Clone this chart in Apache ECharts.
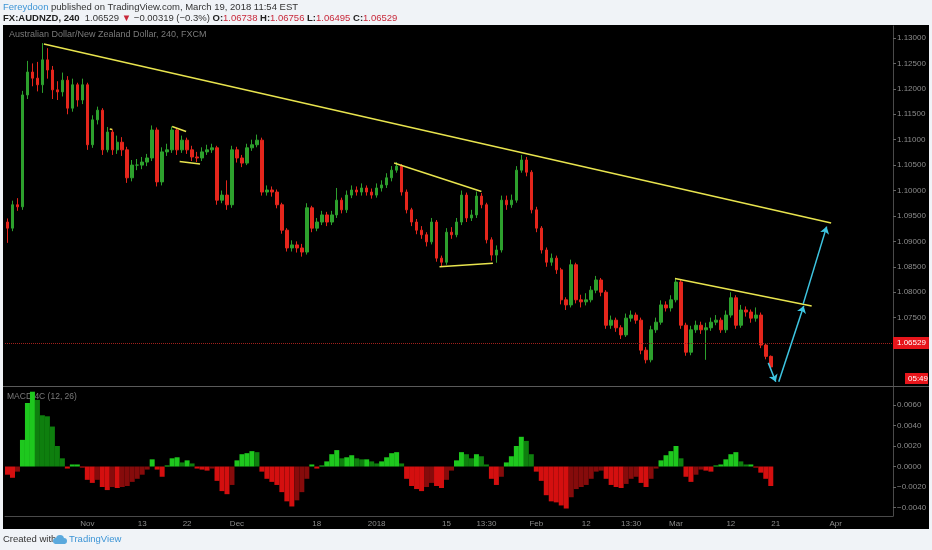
<!DOCTYPE html>
<html>
<head>
<meta charset="utf-8">
<script src="https://cdn.jsdelivr.net/npm/echarts@6/dist/echarts.min.js"></script>
<style>
  html, body { margin: 0; padding: 0; background: #f0f3f7; }
  #chart { width: 932px; height: 550px; }
</style>
</head>
<body>
<div id="chart"></div>
<script>
// AUDNZD 240 candles (open of each bar = previous close)
var firstOpen = 1.0938;
var closes = [
  1.0926, 1.0972, 1.0968, 1.1188, 1.1233, 1.1221, 1.1208, 1.1257, 1.1237, 1.1198,
  1.1194, 1.1217, 1.1162, 1.1208, 1.1178, 1.1208, 1.1090, 1.1139, 1.1158, 1.1080,
  1.1115, 1.1080, 1.1095, 1.1080, 1.1025, 1.1050, 1.1050, 1.1056, 1.1064, 1.1119,
  1.1017, 1.1076, 1.1080, 1.1119, 1.1080, 1.1099, 1.1080, 1.1066, 1.1064, 1.1076,
  1.1080, 1.1084, 1.0981, 1.0991, 1.0972, 1.1080, 1.1064, 1.1054, 1.1084, 1.1090,
  1.1099, 1.0997, 1.1001, 1.0997, 1.0972, 1.0922, 1.0887, 1.0893, 1.0887, 1.0879,
  1.0966, 1.0926, 1.0938, 1.0952, 1.0938, 1.0952, 1.0981, 1.0962, 1.0991, 1.1001,
  1.0997, 1.1005, 1.0997, 1.0991, 1.1005, 1.1011, 1.1025, 1.1040, 1.1048, 1.0997,
  1.0962, 1.0938, 1.0922, 1.0913, 1.0899, 1.0938, 1.0867, 1.0859, 1.0918, 1.0913,
  1.0938, 1.0991, 1.0946, 1.0952, 1.0989, 1.0972, 1.0903, 1.0873, 1.0883, 1.0981,
  1.0972, 1.0981, 1.1040, 1.1060, 1.1036, 1.0962, 1.0926, 1.0883, 1.0859, 1.0867,
  1.0844, 1.0785, 1.0775, 1.0854, 1.0785, 1.0781, 1.0785, 1.0804, 1.0824, 1.0800,
  1.0735, 1.0745, 1.0730, 1.0716, 1.0749, 1.0755, 1.0745, 1.0686, 1.0667, 1.0726,
  1.0741, 1.0775, 1.0769, 1.0785, 1.0820, 1.0735, 1.0682, 1.0726, 1.0735, 1.0726,
  1.0730, 1.0741, 1.0745, 1.0726, 1.0755, 1.0789, 1.0735, 1.0765, 1.0761, 1.0749,
  1.0755, 1.0696, 1.06738, 1.06529
];
var highs = [
  1.0945, 1.0980, 1.0985, 1.1196, 1.1255, 1.1250, 1.1253, 1.1290, 1.1280, 1.1245,
  1.1215, 1.1232, 1.1225, 1.1220, 1.1212, 1.1220, 1.1212, 1.1148, 1.1165, 1.1162,
  1.1125, 1.1120, 1.1108, 1.1105, 1.1086, 1.1060, 1.1062, 1.1066, 1.1072, 1.1128,
  1.1124, 1.1085, 1.1092, 1.1126, 1.1123, 1.1108, 1.1104, 1.1088, 1.1076, 1.1085,
  1.1090, 1.1092, 1.1088, 1.1000, 1.1020, 1.1088, 1.1086, 1.1070, 1.1092, 1.1100,
  1.1110, 1.1104, 1.1010, 1.1008, 1.1002, 1.0976, 1.0926, 1.0902, 1.0900, 1.0895,
  1.0975, 1.0970, 1.0946, 1.0960, 1.0958, 1.0960, 1.1005, 1.0986, 1.1000, 1.1010,
  1.1008, 1.1014, 1.1010, 1.1004, 1.1014, 1.1020, 1.1034, 1.1048, 1.1056, 1.1052,
  1.1002, 1.0966, 1.0944, 1.0930, 1.0918, 1.0946, 1.0942, 1.0872, 1.0926, 1.0928,
  1.0946, 1.1000, 1.0996, 1.0962, 1.0998, 1.0995, 1.0976, 1.0908, 1.0892, 1.0990,
  1.0990, 1.0992, 1.1048, 1.1070, 1.1066, 1.1040, 1.0968, 1.0930, 1.0888, 1.0876,
  1.0872, 1.0848, 1.0790, 1.0864, 1.0858, 1.0795, 1.0798, 1.0812, 1.0832, 1.0828,
  1.0804, 1.0754, 1.0750, 1.0735, 1.0758, 1.0764, 1.0760, 1.0750, 1.0692, 1.0734,
  1.0750, 1.0784, 1.0782, 1.0794, 1.0828, 1.0824, 1.0740, 1.0734, 1.0744, 1.0742,
  1.0740, 1.0750, 1.0755, 1.0750, 1.0764, 1.0800, 1.0794, 1.0775, 1.0772, 1.0766,
  1.0770, 1.0760, 1.0700, 1.06756
];
var lows = [
  1.0897, 1.0920, 1.0960, 1.0962, 1.1180, 1.1205, 1.1195, 1.1192, 1.1220, 1.1180,
  1.1178, 1.1185, 1.1150, 1.1155, 1.1165, 1.1170, 1.1080, 1.1084, 1.1130, 1.1070,
  1.1075, 1.1070, 1.1072, 1.1068, 1.1015, 1.1018, 1.1040, 1.1042, 1.1048, 1.1058,
  1.1008, 1.1010, 1.1068, 1.1074, 1.1070, 1.1074, 1.1072, 1.1058, 1.1056, 1.1058,
  1.1070, 1.1074, 1.0972, 1.0975, 1.0962, 1.0966, 1.1055, 1.1046, 1.1050, 1.1078,
  1.1085, 1.0990, 1.0990, 1.0988, 1.0965, 1.0915, 1.0880, 1.0880, 1.0878, 1.0870,
  1.0874, 1.0918, 1.0920, 1.0932, 1.0930, 1.0932, 1.0946, 1.0955, 1.0956, 1.0985,
  1.0990, 1.0990, 1.0990, 1.0984, 1.0986, 1.0998, 1.1005, 1.1018, 1.1035, 1.0990,
  1.0955, 1.0930, 1.0914, 1.0905, 1.0890, 1.0894, 1.0860, 1.0850, 1.0854, 1.0905,
  1.0908, 1.0932, 1.0938, 1.0940, 1.0946, 1.0965, 1.0896, 1.0862, 1.0858, 1.0878,
  1.0962, 1.0966, 1.0976, 1.1035, 1.1028, 1.0955, 1.0918, 1.0876, 1.0850, 1.0852,
  1.0836, 1.0776, 1.0765, 1.0770, 1.0778, 1.0770, 1.0774, 1.0780, 1.0798, 1.0792,
  1.0728, 1.0728, 1.0722, 1.0708, 1.0712, 1.0742, 1.0738, 1.0678, 1.0660, 1.0662,
  1.0720, 1.0736, 1.0762, 1.0762, 1.0780, 1.0728, 1.0675, 1.0676, 1.0720, 1.0718,
  1.0667, 1.0724, 1.0735, 1.0720, 1.0720, 1.0750, 1.0728, 1.0730, 1.0752, 1.0740,
  1.0742, 1.0690, 1.0668, 1.06495
];
// MACD 4C (12, 26) histogram
var macdHist = [
  -0.0008, -0.0011, -0.0005, 0.0026, 0.0062, 0.0073, 0.0065, 0.0050, 0.0049, 0.0039,
  0.0020, 0.0008, -0.0002, 0.0002, 0.0002, -0.0001, -0.0013, -0.0016, -0.0013, -0.0020,
  -0.0023, -0.0020, -0.0021, -0.0020, -0.0019, -0.0015, -0.0012, -0.0008, -0.0003, 0.0007,
  -0.0003, -0.0010, 0.0001, 0.0008, 0.0009, 0.0004, 0.0006, 0.0003, -0.0002, -0.0003,
  -0.0004, -0.0002, -0.0014, -0.0024, -0.0027, -0.0018, 0.0006, 0.0012, 0.0013, 0.0015,
  0.0014, -0.0005, -0.0012, -0.0015, -0.0018, -0.0025, -0.0034, -0.0039, -0.0033, -0.0025,
  -0.0012, 0.0002, -0.0002, 0.0001, 0.0005, 0.0012, 0.0016, 0.0008, 0.0009, 0.0011,
  0.0008, 0.0007, 0.0007, 0.0005, 0.0003, 0.0005, 0.0009, 0.0013, 0.0014, 0.0003,
  -0.0012, -0.0019, -0.0022, -0.0024, -0.0020, -0.0016, -0.0019, -0.0021, -0.0013, -0.0004,
  0.0006, 0.0014, 0.0012, 0.0008, 0.0012, 0.0010, 0.0002, -0.0012, -0.0018, -0.0010,
  0.0004, 0.0010, 0.0020, 0.0029, 0.0025, 0.0012, -0.0005, -0.0014, -0.0028, -0.0034,
  -0.0035, -0.0038, -0.0041, -0.0030, -0.0022, -0.0020, -0.0018, -0.0012, -0.0005, -0.0004,
  -0.0012, -0.0018, -0.0020, -0.0021, -0.0017, -0.0012, -0.0010, -0.0016, -0.0020, -0.0012,
  -0.0002, 0.0006, 0.0011, 0.0015, 0.0020, 0.0008, -0.0010, -0.0015, -0.0008, -0.0003,
  -0.0004, -0.0005, 0.0001, 0.0002, 0.0007, 0.0012, 0.0014, 0.0005, 0.0002, 0.0002,
  -0.0001, -0.0006, -0.0012, -0.0019
];
var lastPrice = 1.06529;
var slotCount = 178; // bars + empty future slots

// time axis: slot index -> label
var tickPos  = [16, 27, 36, 46, 62, 74, 88, 96, 106, 116, 125, 134, 145, 154, 166];
var tickText = ['Nov', '13', '22', 'Dec', '18', '2018', '15', '13:30', 'Feb', '12', '13:30', 'Mar', '12', '21', 'Apr'];
var priceTicks = [1.07, 1.075, 1.08, 1.085, 1.09, 1.095, 1.10, 1.105, 1.11, 1.115, 1.12, 1.125, 1.13];
var macdTicks = [-0.004, -0.002, 0, 0.002, 0.004, 0.006];

// drawings, in [bar index, price]
var trendLines = [
  [[7.3, 1.1288], [165.1, 1.0936]],
  [[33.0, 1.1126], [35.8, 1.1116]],
  [[34.5, 1.1057], [38.6, 1.1052]],
  [[20.5, 1.1121], [21.0, 1.1120]],
  [[77.5, 1.1054], [95.0, 1.0998]],
  [[86.6, 1.0850], [97.3, 1.0857]],
  [[133.8, 1.0827], [161.2, 1.0773]]
];
var arrows = [
  [[152.5, 1.0661], [154.0, 1.0624]],
  [[154.6, 1.0624], [159.6, 1.0773]],
  [[159.5, 1.0777], [164.2, 1.0929]]
];

var UP = '#2da02d', DOWN = '#e5261c';
var LIME = '#1ec81e', GREEN = '#0e7f0e', RED = '#d40f0f', MAROON = '#860b0b';
var AXIS_TXT = '#8c8c8c', AXIS_LINE = '#4a4a4a';
var FONT = '"Liberation Sans", Arial, sans-serif';

var cats = [];
for (var i = 0; i < slotCount; i++) cats.push(String(i));

var candles = closes.map(function (c, i) {
  var o = i === 0 ? firstOpen : closes[i - 1];
  return [o, c, lows[i], highs[i]];
});

var hist = macdHist.map(function (v, i) {
  var prev = i === 0 ? v : macdHist[i - 1];
  var col = v >= 0 ? (v >= prev ? LIME : GREEN) : (v <= prev ? RED : MAROON);
  return { value: v, itemStyle: { color: col } };
});

function toLines(list) {
  return list.map(function (l) { return { coords: l }; });
}

var option = {
  backgroundColor: '#f0f3f7',
  animation: false,
  graphic: [
    { type: 'rect', z: -10, shape: { x: 3, y: 25, width: 926, height: 504 }, style: { fill: '#000' } },
    { type: 'line', z: 10, shape: { x1: 3, y1: 386.5, x2: 929, y2: 386.5 }, style: { stroke: '#5a5a5a', lineWidth: 1 } },
    {
      type: 'text', left: 3, top: 2,
      style: {
        text: '{b|Fereydoon}{n| published on TradingView.com, March 19, 2018 11:54 EST}',
        rich: {
          b: { fill: '#3d95d6', fontSize: 9.5, fontFamily: FONT },
          n: { fill: '#333', fontSize: 9.5, fontFamily: FONT }
        }
      }
    },
    {
      type: 'text', left: 3, top: 13,
      style: {
        text: '{k|FX:AUDNZD, 240}{n|  1.06529 }{r|\u25BC}{n| \u22120.00319 (\u22120.3%) }{k|O:}{r|1.06738 }{k|H:}{r|1.06756 }{k|L:}{r|1.06495 }{k|C:}{r|1.06529}',
        rich: {
          k: { fill: '#222', fontSize: 9.5, fontWeight: 'bold', fontFamily: FONT },
          n: { fill: '#333', fontSize: 9.5, fontFamily: FONT },
          r: { fill: '#c8283a', fontSize: 9.5, fontFamily: FONT }
        }
      }
    },
    {
      type: 'text', left: 9, top: 30,
      style: { text: 'Australian Dollar/New Zealand Dollar, 240, FXCM', fill: '#7a7a7a', fontSize: 9, fontFamily: FONT }
    },
    {
      type: 'text', left: 7, top: 392,
      style: { text: 'MACD 4C (12, 26)', fill: '#7a7a7a', fontSize: 8.5, fontFamily: FONT }
    },
    {
      type: 'group', left: 905, top: 373,
      children: [
        { type: 'rect', shape: { x: 0, y: 0, width: 23, height: 11 }, style: { fill: '#e8151b' } },
        { type: 'text', x: 3, y: 1.5, style: { text: '05:49', fill: '#fff', fontSize: 8, fontFamily: FONT } }
      ]
    },
    {
      type: 'text', left: 3, top: 534,
      style: { text: 'Created with', fill: '#333', fontSize: 9.5, fontFamily: FONT }
    },
    {
      type: 'group', left: 53, top: 535,
      children: [
        { type: 'circle', shape: { cx: 4, cy: 6, r: 3 }, style: { fill: '#5aa9dd' } },
        { type: 'circle', shape: { cx: 8, cy: 4, r: 4 }, style: { fill: '#5aa9dd' } },
        { type: 'circle', shape: { cx: 12, cy: 6, r: 3 }, style: { fill: '#5aa9dd' } },
        { type: 'rect', shape: { x: 3, y: 6, width: 10, height: 3 }, style: { fill: '#5aa9dd' } }
      ]
    },
    {
      type: 'text', left: 69, top: 534,
      style: { text: 'TradingView', fill: '#3d95d6', fontSize: 9.5, fontFamily: FONT }
    }
  ],
  grid: [
    { left: 5, right: 39, top: 26, height: 360 },
    { left: 5, right: 39, top: 387, height: 129 }
  ],
  xAxis: [
    {
      type: 'category', gridIndex: 0, data: cats, boundaryGap: true,
      axisLine: { show: false }, axisTick: { show: false }, axisLabel: { show: false }, splitLine: { show: false }
    },
    { type: 'value', gridIndex: 0, min: -0.5, max: slotCount - 0.5, show: false },
    {
      type: 'category', gridIndex: 1, data: cats, boundaryGap: true,
      axisLine: { show: true, onZero: false, lineStyle: { color: AXIS_LINE } },
      axisTick: { show: false },
      splitLine: { show: false },
      axisLabel: {
        color: AXIS_TXT, fontSize: 8, fontFamily: FONT, margin: 4,
        interval: function (idx) { return tickPos.indexOf(idx) >= 0; },
        formatter: function (v, idx) {
          var k = tickPos.indexOf(idx);
          return k >= 0 ? tickText[k] : '';
        }
      }
    }
  ],
  yAxis: [
    {
      type: 'value', gridIndex: 0, position: 'right', min: 1.06155, max: 1.13236,
      axisLine: { show: true, onZero: false, lineStyle: { color: AXIS_LINE } },
      axisTick: { show: true, length: 3, customValues: priceTicks, lineStyle: { color: '#666' } },
      axisLabel: {
        customValues: priceTicks, color: AXIS_TXT, fontSize: 8, fontFamily: FONT, margin: 4,
        formatter: function (v) { return v.toFixed(5); }
      },
      splitLine: { show: false }
    },
    {
      type: 'value', gridIndex: 1, position: 'right', min: -0.00483, max: 0.00776,
      axisLine: { show: true, onZero: false, lineStyle: { color: AXIS_LINE } },
      axisTick: { show: true, length: 3, customValues: macdTicks, lineStyle: { color: '#666' } },
      axisLabel: {
        customValues: macdTicks, color: AXIS_TXT, fontSize: 8, fontFamily: FONT, margin: 4,
        formatter: function (v) { return (v < 0 ? '\u2212' : '') + Math.abs(v).toFixed(4); }
      },
      splitLine: { show: false }
    }
  ],
  series: [
    {
      name: 'AUDNZD', type: 'candlestick', xAxisIndex: 0, yAxisIndex: 0,
      data: candles, barWidth: '60%',
      itemStyle: { color: UP, color0: DOWN, borderColor: UP, borderColor0: DOWN, borderWidth: 1 },
      markLine: {
        silent: true, symbol: 'none', animation: false,
        lineStyle: { color: '#a0211c', type: 'dotted', width: 1 },
        label: {
          position: 'end', distance: 0, formatter: lastPrice.toFixed(5),
          color: '#fff', backgroundColor: '#e8151b', padding: [2, 3, 2, 4],
          fontSize: 8, fontFamily: FONT
        },
        data: [{ yAxis: lastPrice }]
      }
    },
    {
      name: 'trend', type: 'lines', coordinateSystem: 'cartesian2d', xAxisIndex: 1, yAxisIndex: 0,
      silent: true, symbol: 'none',
      lineStyle: { color: '#e8e44e', width: 1.5, opacity: 1 },
      data: toLines(trendLines), z: 5
    },
    {
      name: 'arrows', type: 'lines', coordinateSystem: 'cartesian2d', xAxisIndex: 1, yAxisIndex: 0,
      silent: true, symbol: ['none', 'arrow'], symbolSize: 7,
      lineStyle: { color: '#3ec6e2', width: 1.5, opacity: 1 },
      data: toLines(arrows), z: 5
    },
    {
      name: 'MACD', type: 'bar', xAxisIndex: 2, yAxisIndex: 1,
      data: hist, barCategoryGap: '0%', barWidth: '100%'
    }
  ]
};

var myChart = echarts.init(document.getElementById('chart'));
myChart.setOption(option);
</script>
</body>
</html>
